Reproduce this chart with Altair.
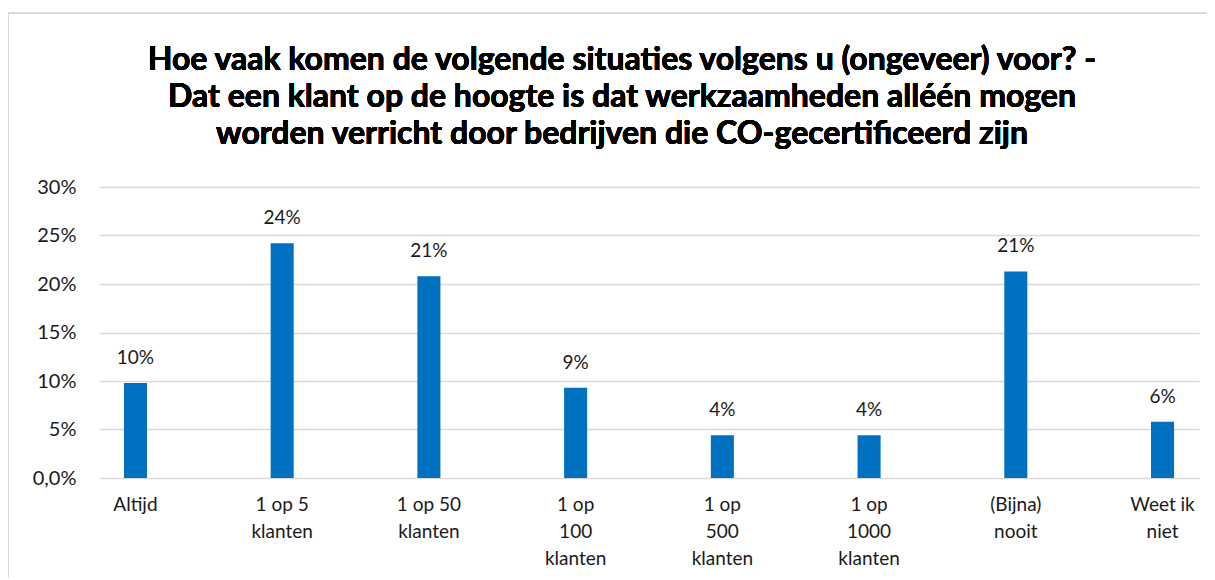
import altair as alt
import pandas as pd

categories = ["Altijd", "1 op 5\nklanten", "1 op 50\nklanten", "1 op\n100\nklanten",
              "1 op\n500\nklanten", "1 op\n1000\nklanten", "(Bijna)\nnooit", "Weet ik\nniet"]
values = [0.098, 0.242, 0.208, 0.093, 0.044, 0.044, 0.213, 0.058]

title_lines = [
    "Hoe vaak komen de volgende situaties volgens u (ongeveer) voor? -",
    "Dat een klant op de hoogte is dat werkzaamheden alléén mogen",
    "worden verricht door bedrijven die CO-gecertificeerd zijn",
]

df = pd.DataFrame({"cat": categories, "val": values})

FONT = "Lato"
TXT = "#1a1a1a"

x = alt.X("cat:N", sort=categories, title=None,
          scale=alt.Scale(paddingInner=0.843, paddingOuter=0.17),
          axis=alt.Axis(labelAngle=0, labelExpr="split(datum.label, '\\n')",
                        labelFontSize=19, labelLineHeight=27, labelPadding=17,
                        labelColor=TXT, ticks=False, domain=False,
                        labelFont=FONT))
y = alt.Y("val:Q", title=None,
          scale=alt.Scale(domain=[0, 0.30], nice=False),
          axis=alt.Axis(values=[0, 0.05, 0.10, 0.15, 0.20, 0.25, 0.30],
                        labelExpr="datum.value == 0 ? '0,0%' : format(datum.value, '.0%')",
                        labelFontSize=20, labelPadding=23, labelColor=TXT,
                        ticks=False, domain=False, gridColor="#d9d9d9", gridWidth=1.6,
                        labelFont=FONT))

bars = alt.Chart(df).mark_bar(color="#0070C0").encode(x=x, y=y)
texts = alt.Chart(df).mark_text(fontSize=19, font=FONT, color=TXT,
                                baseline="alphabetic", dy=-19).encode(
    x=alt.X("cat:N", sort=categories),
    y="val:Q",
    text=alt.Text("val:Q", format=".0%"),
)
border = alt.Chart(df).mark_rect(fill=None, stroke="#d9d9d9", strokeWidth=1.6).encode(
    x=alt.value(-91), x2=alt.value(1200), y=alt.value(-174), y2=alt.value(500)
)
title = alt.Chart(df).mark_text(
    text=title_lines, fontSize=32, font=FONT, fontWeight="bold", color="#000000",
    lineHeight=37, align="center", baseline="alphabetic"
).encode(x=alt.value(523), y=alt.value(-117))

chart = alt.layer(border, bars, texts, title).properties(
    width=1100, height=291,
    padding={"left": 91, "top": 179, "right": 8, "bottom": 100},
    autosize=alt.AutoSizeParams(type="none"),
).configure_view(stroke=None)

chart.save("out.html", embed_options={"renderer": "svg", "actions": False})
